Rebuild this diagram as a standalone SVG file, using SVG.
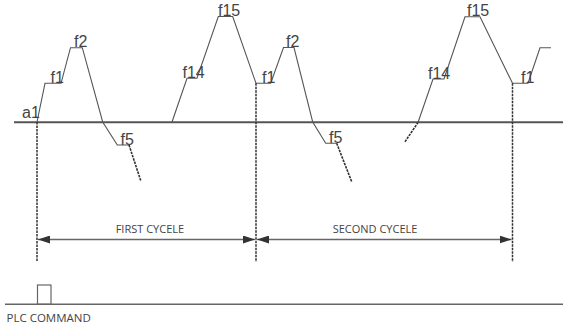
<svg xmlns="http://www.w3.org/2000/svg" width="563" height="326" viewBox="0 0 563 326">
  <defs>
    <marker id="arr" viewBox="0 0 12 8" refX="12" refY="4" markerWidth="12" markerHeight="8" markerUnits="userSpaceOnUse" orient="auto-start-reverse">
      <path d="M0,0 L12,4 L0,8 Z" fill="#333"/>
    </marker>
    <style>
      .wave { fill: none; stroke: #555; stroke-width: 1.1; stroke-linejoin: miter; }
      .tail { fill: none; stroke: #333; stroke-width: 1.6; stroke-dasharray: 2.5 1; }
      .vdash { fill: none; stroke: #333; stroke-width: 1.5; stroke-dasharray: 2.5 1; }
      .axis { stroke: #555; stroke-width: 2; }
      .lbl { font-family: "Liberation Sans", Arial, sans-serif; font-size: 16px; fill: #444; }
      .cap { font-family: "Open Sans", "Noto Sans", sans-serif; font-size: 11px; fill: #444; }
      .dim { stroke: #666; stroke-width: 1.5; fill: none; }
    </style>
  </defs>
  <rect width="563" height="326" fill="#fff"/>

  <g id="axis">
    <line class="axis" x1="14" y1="122.3" x2="563" y2="122.3"/>
  </g>

  <g id="waveform">
    <path class="wave" d="M37,122 L45,83.3 L61,83.3 L70.5,47.7 L82.3,47.7 L102.7,122 L117.3,145 L129,145"/>
    <path class="tail" d="M129,145 L141,181.5"/>
    <path class="wave" d="M172,122 L187,78.3 L197,78.3 L218.3,16.5 L232.7,16.5 L256,83.3 L270.7,83.3 L283.5,47.5 L294,47.5 L312.7,122 L325.7,143.3 L336.7,143.3"/>
    <path class="tail" d="M336.7,143.3 L351.7,181.7"/>
    <path class="tail" d="M405,141.7 L418,122.5"/>
    <path class="wave" d="M418,122.5 L433,79 L444,79 L465,16.7 L480,16.7 L512.5,83.3 L528,83.3 L540,47.7 L551,47.7"/>
  </g>

  <g id="labels">
    <text class="lbl" x="22" y="118">a1</text>
    <text class="lbl" x="50.5" y="83">f1</text>
    <text class="lbl" x="74" y="47">f2</text>
    <text class="lbl" x="120.5" y="145">f5</text>
    <text class="lbl" x="182.5" y="78">f14</text>
    <text class="lbl" x="218" y="16">f15</text>
    <text class="lbl" x="262" y="83">f1</text>
    <text class="lbl" x="286" y="47">f2</text>
    <text class="lbl" x="329" y="143">f5</text>
    <text class="lbl" x="428" y="79">f14</text>
    <text class="lbl" x="467" y="16">f15</text>
    <text class="lbl" x="521" y="83">f1</text>
  </g>

  <g id="markers">
    <line class="vdash" x1="37" y1="122" x2="37" y2="262"/>
    <line class="vdash" x1="256" y1="83.3" x2="256" y2="262"/>
    <line class="vdash" x1="512.5" y1="83.3" x2="512.5" y2="262"/>
  </g>

  <g id="connectors">
    <line class="dim" x1="38" y1="239.5" x2="255" y2="239.5" marker-start="url(#arr)" marker-end="url(#arr)"/>
    <line class="dim" x1="257" y1="239.5" x2="511.5" y2="239.5" marker-start="url(#arr)" marker-end="url(#arr)"/>
  </g>

  <g id="first-cycle">
    <text class="cap" x="115.7" y="233.3">FIRST CYCELE</text>
  </g>
  <g id="second-cycle">
    <text class="cap" x="332.7" y="233.3">SECOND CYCELE</text>
  </g>

  <g id="plc">
    <line x1="5" y1="304.3" x2="563" y2="304.3" stroke="#666" stroke-width="1.5"/>
    <rect x="37.5" y="285" width="13.5" height="19.3" fill="none" stroke="#666" stroke-width="1.2"/>
    <text class="cap" x="6.5" y="321.7" style="font-size:11.5px">PLC COMMAND</text>
  </g>
</svg>
